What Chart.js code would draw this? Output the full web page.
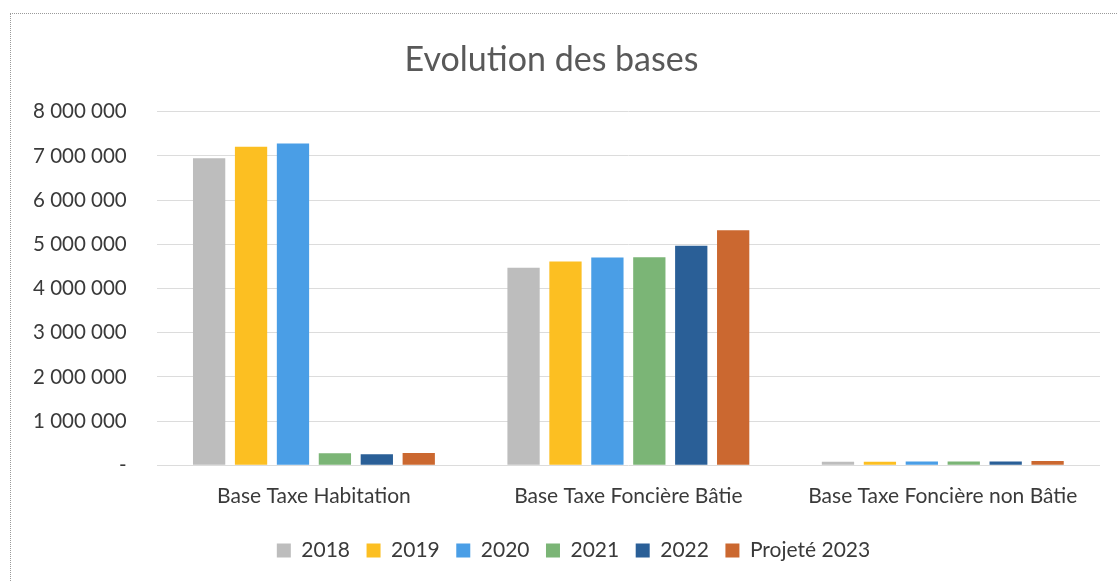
<!DOCTYPE html>
<html>
<head>
<meta charset="utf-8">
<script src="https://cdn.jsdelivr.net/npm/chart.js@4.4.1/dist/chart.umd.min.js"></script>
<style>
    html, body { margin: 0; padding: 0; background: #fff; }
    #wrap { position: relative; width: 1117px; height: 581px; }
    #frame { position: absolute; left: 10px; top: 13px; right: -2px; bottom: -2px; border-left: 1px dotted #9a9a9a; border-top: 1px dotted #9a9a9a; }
</style>
</head>
<body>
<div id="wrap">
    <div id="frame"></div>
    <canvas id="basesChart" width="1117" height="581"></canvas>
</div>
<script>
// données
const categories = ['Base Taxe Habitation', 'Base Taxe Foncière Bâtie', 'Base Taxe Foncière non Bâtie'];
const seriesLabels = ['2018', '2019', '2020', '2021', '2022', 'Projeté 2023'];
const base2018 = [6950000, 4470000, 80000];
const base2019 = [7210000, 4610000, 82000];
const base2020 = [7280000, 4700000, 84000];
const base2021 = [270000, 4710000, 85000];
const base2022 = [250000, 4970000, 86000];
const base2023 = [280000, 5320000, 95000];
const yTicks = [0, 1000000, 2000000, 3000000, 4000000, 5000000, 6000000, 7000000, 8000000];

const seriesValues = [base2018, base2019, base2020, base2021, base2022, base2023];
const seriesColors = ['#bdbdbd', '#fcbf22', '#4a9ee6', '#7bb576', '#2a5f97', '#cb6830'];

const FONT = 'Lato, "Open Sans", sans-serif';

function formatSpaces(v) {
    if (v === 0) return '-';
    return String(v).replace(/\B(?=(\d{3})+(?!\d))/g, ' ');
}

// la légende est un peu décalée vers la droite dans l'original
const legendShift = {
    id: 'legendShift',
    afterLayout(chart) {
        const lg = chart.legend;
        lg.left += 22; lg.right += 22;
        lg.top += 5; lg.bottom += 5;
    }
};

const ctx = document.getElementById('basesChart').getContext('2d');
new Chart(ctx, {
    type: 'bar',
    data: {
        labels: categories,
        datasets: seriesLabels.map((label, i) => ({
            label: label,
            data: seriesValues[i],
            backgroundColor: seriesColors[i],
            barPercentage: 0.77,
            categoryPercentage: 0.8
        }))
    },
    plugins: [legendShift],
    options: {
        responsive: false,
        animation: false,
        devicePixelRatio: 1,
        layout: { padding: { left: 3, right: 17, top: 40, bottom: 15 } },
        plugins: {
            title: {
                display: true,
                text: 'Evolution des bases',
                color: '#595959',
                font: { family: FONT, size: 34, weight: 'normal' },
                padding: { top: 0, bottom: 31 }
            },
            legend: {
                position: 'bottom',
                labels: {
                    color: '#3a3a3a',
                    font: { family: FONT, size: 21 },
                    boxWidth: 14,
                    boxHeight: 14,
                    padding: 16.5
                }
            },
            tooltip: { enabled: false }
        },
        scales: {
            x: {
                grid: { display: false },
                border: { display: false },
                ticks: { color: '#3a3a3a', font: { family: FONT, size: 21 }, padding: 10 }
            },
            y: {
                min: 0,
                max: 8000000,
                afterBuildTicks: axis => { axis.ticks = yTicks.map(v => ({ value: v })); },
                grid: { color: '#dcdcdc', drawTicks: false },
                border: { display: false },
                ticks: {
                    color: '#3a3a3a',
                    font: { family: FONT, size: 20.5 },
                    padding: 30,
                    callback: v => formatSpaces(v)
                }
            }
        }
    }
});
</script>
</body>
</html>
